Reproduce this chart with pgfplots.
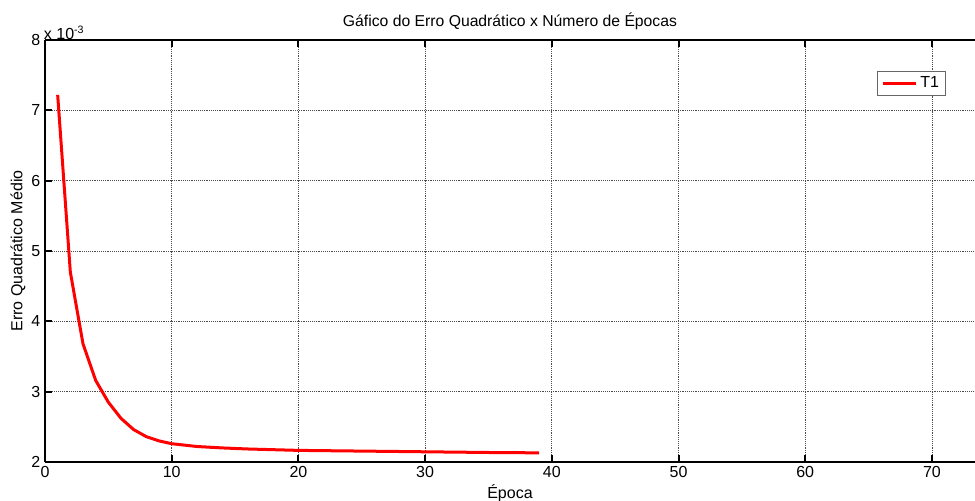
\documentclass[border=0pt]{standalone}
\usepackage{pgfplots}
\pgfplotsset{compat=1.18}
\usepackage{fontspec}
\setmainfont{Liberation Sans}

\begin{document}
\begin{tikzpicture}
  \begin{axis}[
      scale only axis,
      width=697.5pt, height=316.5pt,
      xmin=0, xmax=73.4,
      ymin=2e-3, ymax=8e-3,
      xtick={0,10,...,70},
      ytick={2e-3,3e-3,4e-3,5e-3,6e-3,7e-3,8e-3},
      axis x line*=box, axis y line*=left,
      axis line style={line width=1.1pt},
      tick style={line width=1.5pt, black},
      major tick length=5pt,
      tick align=inside,
      grid=major,
      major grid style={densely dotted, black!70, line width=0.5pt},
      scaled y ticks=base 10:3,
      ytick scale label code/.code={x 10\textsuperscript{#1}},
      every y tick scale label/.style={at={(axis description cs:0,1)}, anchor=south west, xshift=-1pt, yshift=0pt, inner sep=0pt, font=\fontsize{12}{14}\selectfont},
      /pgf/number format/assume math mode=true,
      ticklabel style={font=\fontsize{12}{14}\selectfont},
      title={Gáfico do Erro Quadrático x Número de Épocas},
      title style={at={(axis description cs:0.5,1.025)}, anchor=center, font=\fontsize{11.8}{14}\selectfont},
      xlabel={Época},
      xlabel style={at={(axis description cs:0.5,-0.075)}, anchor=center, font=\fontsize{12}{14}\selectfont},
      ylabel={Erro Quadrático Médio},
      ylabel style={at={(axis description cs:-0.029,0.5)}, anchor=center, rotate=0, font=\fontsize{12}{14}\selectfont},
      legend style={at={(axis description cs:0.969,0.9265)}, anchor=north east, draw=black!60, line width=0.6pt, font=\fontsize{12}{14}\selectfont, inner xsep=3pt, inner ysep=2pt},
      legend image code/.code={\draw[#1] (0cm,0cm) -- (25pt,0cm);},
      legend cell align=left,
    ]
    \addplot[red, line width=2.25pt] coordinates {
      (1, 7.22e-3)
      (2, 4.70e-3)
      (3, 3.68e-3)
      (4, 3.16e-3)
      (5, 2.85e-3)
      (6, 2.62e-3)
      (7, 2.46e-3)
      (8, 2.36e-3)
      (9, 2.30e-3)
      (10, 2.26e-3)
      (11, 2.24e-3)
      (12, 2.22e-3)
      (14, 2.20e-3)
      (16, 2.185e-3)
      (18, 2.175e-3)
      (20, 2.165e-3)
      (25, 2.155e-3)
      (30, 2.145e-3)
      (35, 2.135e-3)
      (39, 2.13e-3)
    };
    \addlegendentry{T1}
    \coordinate (sw) at (rel axis cs:0,0);
    \coordinate (ne) at (rel axis cs:1,1);
  \end{axis}
  \pgfresetboundingbox
  \path[use as bounding box] ([xshift=-33.75pt, yshift=-29.25pt]sw) rectangle ([yshift=30pt]ne);
\end{tikzpicture}
\end{document}
